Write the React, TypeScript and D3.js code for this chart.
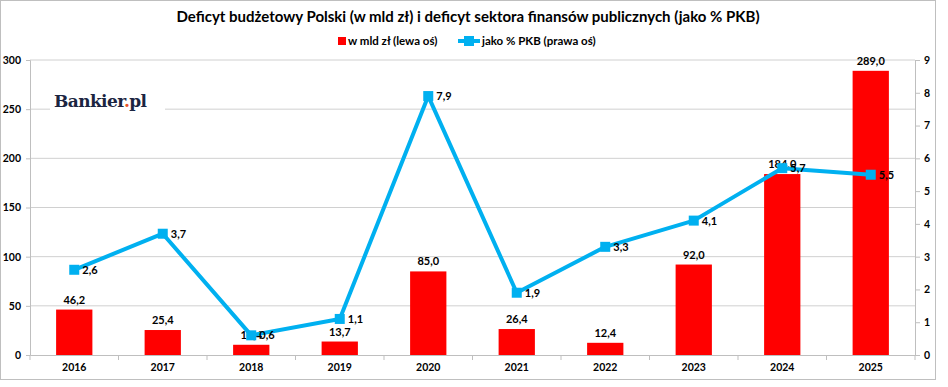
import { useEffect, useRef } from 'react';
import * as d3 from 'd3';

const years = ['2016', '2017', '2018', '2019', '2020', '2021', '2022', '2023', '2024', '2025'];
const deficitBn = [46.2, 25.4, 10.4, 13.7, 85.0, 26.4, 12.4, 92.0, 184.0, 289.0];
const deficitPct = [2.6, 3.7, 0.6, 1.1, 7.9, 1.9, 3.3, 4.1, 5.7, 5.5];
const leftTicks = [0, 50, 100, 150, 200, 250, 300];
const rightTicks = [0, 1, 2, 3, 4, 5, 6, 7, 8, 9];

const TITLE = 'Deficyt budżetowy Polski (w mld zł) i deficyt sektora finansów publicznych (jako % PKB)';
const FONT = 'Lato, "Open Sans", sans-serif';
const BAR = '#ff0000';
const LINE = '#00b0f0';

const fmt = (v: number) => v.toFixed(1).replace('.', ',');

export default function App() {
  const svgRef = useRef<SVGSVGElement>(null);

  useEffect(() => {
    if (!svgRef.current) return;
    const svg = d3.select(svgRef.current);
    svg.selectAll('*').remove();

    const W = 948;
    const H = 387;
    const left = 30;
    const right = 915;
    const top = 60;
    const bottom = 355;

    svg.attr('width', W).attr('height', H).style('font-family', FONT);

    svg.append('rect').attr('x', 0).attr('y', 0).attr('width', W).attr('height', H).attr('fill', '#fff');
    svg.append('rect').attr('x', 0.5).attr('y', 0.5).attr('width', 935).attr('height', 379)
      .attr('fill', 'none').attr('stroke', '#bfbfbf').attr('stroke-width', 1);

    const x = d3.scaleBand<string>().domain(years).range([left, right]).paddingInner(0.59).paddingOuter(0.295);
    const xCenter = (d: string) => (x(d) ?? 0) + x.bandwidth() / 2;
    const xBound = d3.scaleLinear().domain([0, years.length]).range([left, right]);
    const yL = d3.scaleLinear().domain([0, 300]).range([bottom, top]);
    const yR = d3.scaleLinear().domain([0, 9]).range([bottom, top]);

    // title and legend
    svg.append('text').attr('x', 468).attr('y', 22).attr('text-anchor', 'middle')
      .attr('font-size', 15).attr('font-weight', 700).attr('fill', '#000').text(TITLE);

    const lg = svg.append('g').attr('font-size', 11.5).attr('font-weight', 700).attr('fill', '#000');
    lg.append('rect').attr('x', 338).attr('y', 37).attr('width', 8).attr('height', 8).attr('fill', BAR);
    lg.append('text').attr('x', 348).attr('y', 45).text('w mld zł (lewa oś)');
    lg.append('line').attr('x1', 458).attr('x2', 480).attr('y1', 41).attr('y2', 41).attr('stroke', LINE).attr('stroke-width', 4);
    lg.append('rect').attr('x', 464).attr('y', 36).attr('width', 10).attr('height', 10).attr('fill', LINE);
    lg.append('text').attr('x', 482).attr('y', 45).text('jako % PKB (prawa oś)');

    // grid
    svg.append('g').selectAll('line').data(leftTicks.slice(1)).join('line')
      .attr('x1', left).attr('x2', right).attr('y1', (d) => yL(d)).attr('y2', (d) => yL(d))
      .attr('stroke', '#d0d0d0').attr('stroke-width', 1);

    // logo
    svg.append('rect').attr('x', 50).attr('y', 86).attr('width', 115).attr('height', 30).attr('fill', '#fff');
    const logo = svg.append('text').attr('x', 54).attr('y', 107).attr('font-family', '"DejaVu Serif", "Liberation Serif", serif')
      .attr('font-size', 17).attr('font-weight', 700).attr('fill', '#1b2541').attr('letter-spacing', -0.6);
    logo.append('tspan').text('Bankier');
    logo.append('tspan').attr('fill', '#e8542a').text('.');
    logo.append('tspan').text('pl');

    // axes
    const axL = svg.append('g').attr('transform', `translate(${left},0)`)
      .call(d3.axisLeft(yL).tickValues(leftTicks).tickSize(4).tickFormat((d) => String(d)));
    const axR = svg.append('g').attr('transform', `translate(${right},0)`)
      .call(d3.axisRight(yR).tickValues(rightTicks).tickSize(5).tickFormat((d) => String(d)));
    const axX = svg.append('g').attr('transform', `translate(0,${bottom})`)
      .call(d3.axisBottom(x).tickSize(0).tickPadding(9));
    svg.append('g').selectAll('line').data(d3.range(years.length + 1)).join('line')
      .attr('x1', (d) => xBound(d)).attr('x2', (d) => xBound(d)).attr('y1', bottom).attr('y2', bottom + 5)
      .attr('stroke', '#bfbfbf');
    [axL, axR, axX].forEach((a) => {
      a.select('.domain').attr('stroke', '#bfbfbf');
      a.selectAll('.tick line').attr('stroke', '#bfbfbf');
      a.selectAll('text').attr('font-family', FONT).attr('font-size', 10.5).attr('font-weight', 700).attr('fill', '#000');
    });
    axL.selectAll('text').attr('x', -9);
    axR.selectAll('text').attr('x', 9);

    // bars
    svg.append('g').selectAll('rect').data(deficitBn).join('rect')
      .attr('x', (_, i) => x(years[i]) ?? 0)
      .attr('y', (d) => yL(d))
      .attr('width', x.bandwidth())
      .attr('height', (d) => bottom - yL(d))
      .attr('fill', BAR);

    svg.append('g').selectAll('text').data(deficitBn).join('text')
      .attr('x', (_, i) => xCenter(years[i]))
      .attr('y', (d) => yL(d) - 6)
      .attr('text-anchor', 'middle').attr('font-size', 11).attr('font-weight', 700).attr('fill', '#000')
      .text((d) => fmt(d));

    // line
    const line = d3.line<number>().x((_, i) => xCenter(years[i])).y((d) => yR(d));
    svg.append('path').datum(deficitPct).attr('d', line).attr('fill', 'none')
      .attr('stroke', LINE).attr('stroke-width', 4).attr('stroke-linejoin', 'round');
    svg.append('g').selectAll('rect').data(deficitPct).join('rect')
      .attr('x', (_, i) => xCenter(years[i]) - 5)
      .attr('y', (d) => yR(d) - 5)
      .attr('width', 10).attr('height', 10).attr('fill', LINE);
    svg.append('g').selectAll('text').data(deficitPct).join('text')
      .attr('x', (_, i) => xCenter(years[i]) + 8)
      .attr('y', (d) => yR(d) + 4)
      .attr('font-size', 11).attr('font-weight', 700).attr('fill', '#000')
      .text((d) => fmt(d));
  }, []);

  return (
    <div style={{ position: 'fixed', left: 0, top: 0, width: 948, height: 387, overflow: 'hidden' }}>
      <svg ref={svgRef} style={{ display: 'block' }} />
    </div>
  );
}
